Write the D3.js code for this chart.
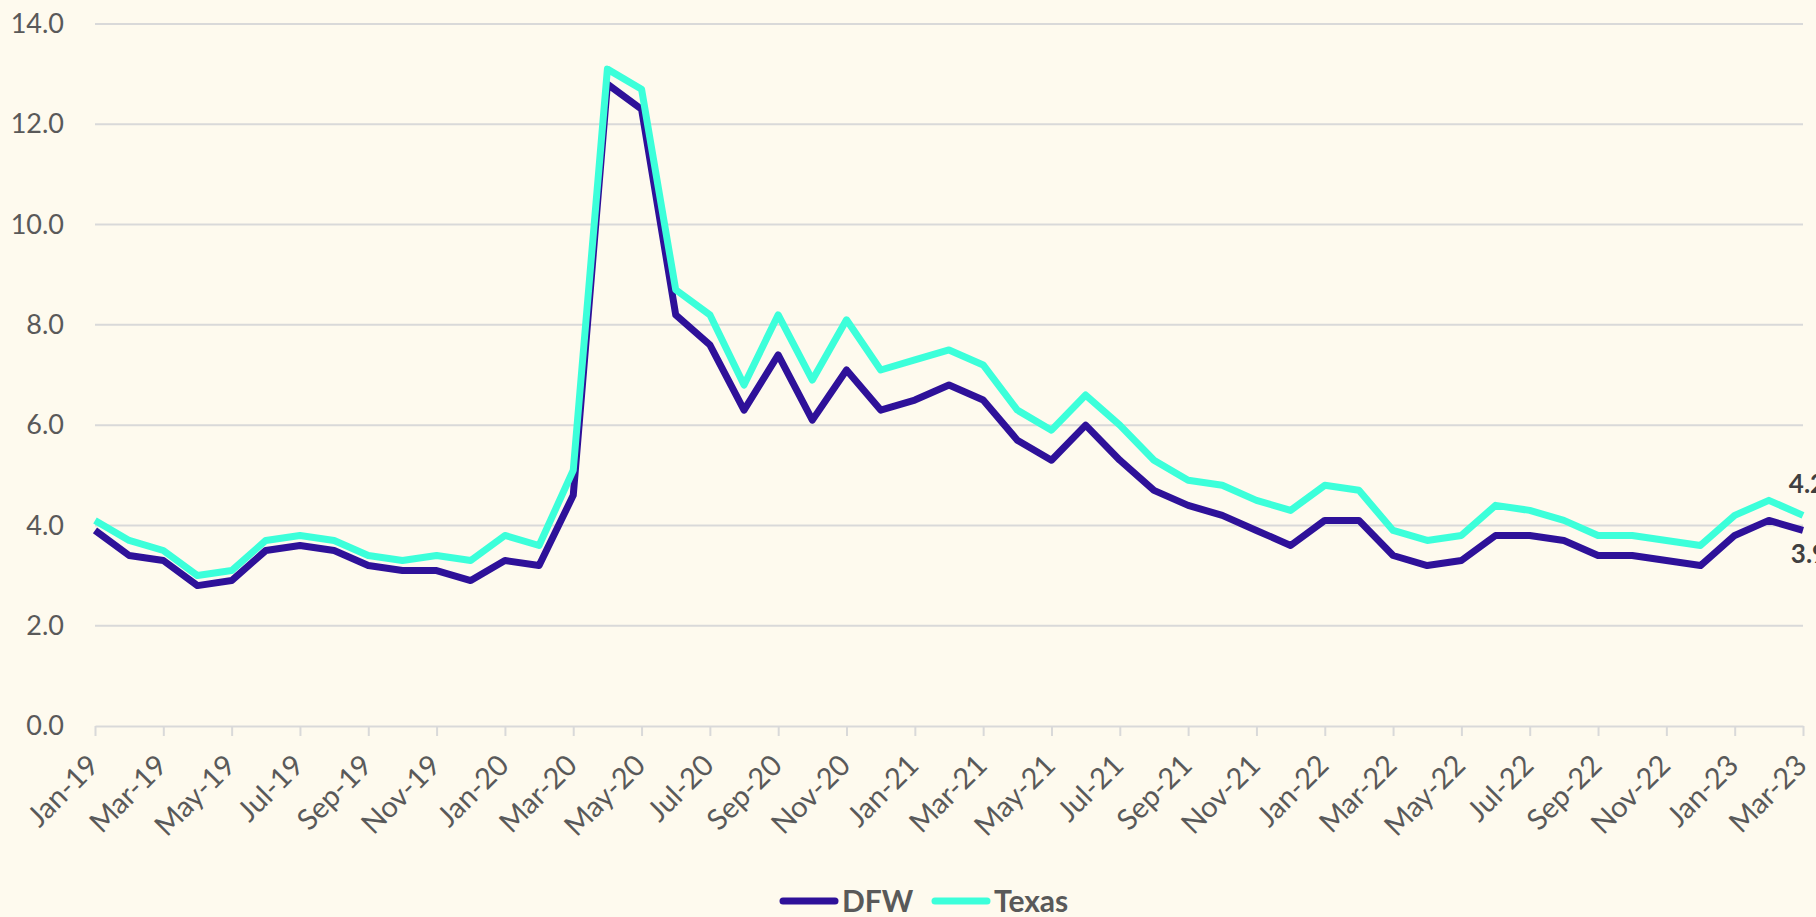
<!DOCTYPE html>
<html>
<head>
<meta charset="utf-8">
<script src="https://cdn.jsdelivr.net/npm/d3@7"></script>
<style>
  html, body { margin: 0; padding: 0; background: #FEFAEE; overflow: hidden; }
  svg { display: block; }
</style>
</head>
<body>
<svg id="chart" width="1816" height="917"></svg>
<script>
const months = ["Jan-19","Feb-19","Mar-19","Apr-19","May-19","Jun-19","Jul-19","Aug-19","Sep-19","Oct-19","Nov-19","Dec-19",
  "Jan-20","Feb-20","Mar-20","Apr-20","May-20","Jun-20","Jul-20","Aug-20","Sep-20","Oct-20","Nov-20","Dec-20",
  "Jan-21","Feb-21","Mar-21","Apr-21","May-21","Jun-21","Jul-21","Aug-21","Sep-21","Oct-21","Nov-21","Dec-21",
  "Jan-22","Feb-22","Mar-22","Apr-22","May-22","Jun-22","Jul-22","Aug-22","Sep-22","Oct-22","Nov-22","Dec-22",
  "Jan-23","Feb-23","Mar-23"];
const dfw = [3.9,3.4,3.3,2.8,2.9,3.5,3.6,3.5,3.2,3.1,3.1,2.9,
  3.3,3.2,4.6,12.8,12.3,8.2,7.6,6.3,7.4,6.1,7.1,6.3,
  6.5,6.8,6.5,5.7,5.3,6.0,5.3,4.7,4.4,4.2,3.9,3.6,
  4.1,4.1,3.4,3.2,3.3,3.8,3.8,3.7,3.4,3.4,3.3,3.2,
  3.8,4.1,3.9];
const texas = [4.1,3.7,3.5,3.0,3.1,3.7,3.8,3.7,3.4,3.3,3.4,3.3,
  3.8,3.6,5.1,13.1,12.7,8.7,8.2,6.8,8.2,6.9,8.1,7.1,
  7.3,7.5,7.2,6.3,5.9,6.6,6.0,5.3,4.9,4.8,4.5,4.3,
  4.8,4.7,3.9,3.7,3.8,4.4,4.3,4.1,3.8,3.8,3.7,3.6,
  4.2,4.5,4.2];
const yTicks = [0,2,4,6,8,10,12,14];
const seriesNames = ["DFW","Texas"];
const seriesColors = ["#2E1199","#3CFFDA"];

const svg = d3.select("#chart");
const mLeft = 95, mRight = 1803, mTop = 24, mBottom = 726;
const x = d3.scalePoint().domain(months).range([mLeft, mRight]);
const y = d3.scaleLinear().domain([0,14]).range([mBottom, mTop]);
const font = "Lato, 'Open Sans', sans-serif";

// gridlines
svg.append("g").selectAll("line").data(yTicks.filter(d => d > 0)).join("line")
  .attr("x1", mLeft).attr("x2", mRight)
  .attr("y1", d => y(d)).attr("y2", d => y(d))
  .attr("stroke", "#D9D9D9").attr("stroke-width", 2);

// y axis labels
const yAxis = d3.axisLeft(y).tickValues(yTicks).tickFormat(d3.format(".1f")).tickSize(0).tickPadding(31);
const yg = svg.append("g").attr("transform", `translate(${mLeft},0)`).call(yAxis);
yg.select(".domain").remove();
yg.selectAll("text").style("font-family", font).style("font-size", "27px").attr("fill", "#595959");

// x axis
const xLabels = months.filter((d,i) => i % 2 === 0);
const xAxis = d3.axisBottom(x).tickValues(xLabels).tickSize(10).tickSizeOuter(0);
const xg = svg.append("g").attr("transform", `translate(0,${mBottom})`).call(xAxis);
xg.select(".domain").attr("stroke", "#D9D9D9").attr("stroke-width", 2);
xg.selectAll(".tick line").attr("stroke", "#D9D9D9").attr("stroke-width", 2);
xg.selectAll("text")
  .style("font-family", font).style("font-size", "29px").attr("fill", "#595959")
  .attr("text-anchor", "end")
  .attr("x", 0).attr("y", 0)
  .attr("dy", "0.35em")
  .attr("transform", "translate(-2,34) rotate(-45)");

// lines
const line = d3.line().x((d,i) => x(months[i])).y(d => y(d));
[dfw, texas].forEach((data, k) => {
  svg.append("path").datum(data)
    .attr("d", line)
    .attr("fill", "none")
    .attr("stroke", seriesColors[k])
    .attr("stroke-width", 7)
    .attr("stroke-linejoin", "round")
    .attr("stroke-linecap", "butt");
});

// end labels
const last = months.length - 1;
svg.append("text").attr("x", x(months[last]) + 4).attr("y", y(texas[last]) - 22)
  .attr("text-anchor", "middle").style("font-family", font).attr("font-weight", "bold")
  .style("font-size", "26px").attr("fill", "#404040").text(d3.format(".1f")(texas[last]));
svg.append("text").attr("x", x(months[last]) + 6).attr("y", y(dfw[last]) + 33)
  .attr("text-anchor", "middle").style("font-family", font).attr("font-weight", "bold")
  .style("font-size", "26px").attr("fill", "#404040").text(d3.format(".1f")(dfw[last]));

// legend
const legend = svg.append("g");
const legendItems = [{name: seriesNames[0], color: seriesColors[0], x: 780}, {name: seriesNames[1], color: seriesColors[1], x: 932}];
legendItems.forEach(it => {
  legend.append("line").attr("x1", it.x + 3).attr("x2", it.x + 55)
    .attr("y1", 901).attr("y2", 901)
    .attr("stroke", it.color).attr("stroke-width", 7).attr("stroke-linecap", "round");
  legend.append("text").attr("x", it.x + 62).attr("y", 912)
    .style("font-family", font).attr("font-weight", "bold").style("font-size", "30px")
    .attr("fill", "#595959").text(it.name);
});
</script>
</body>
</html>
